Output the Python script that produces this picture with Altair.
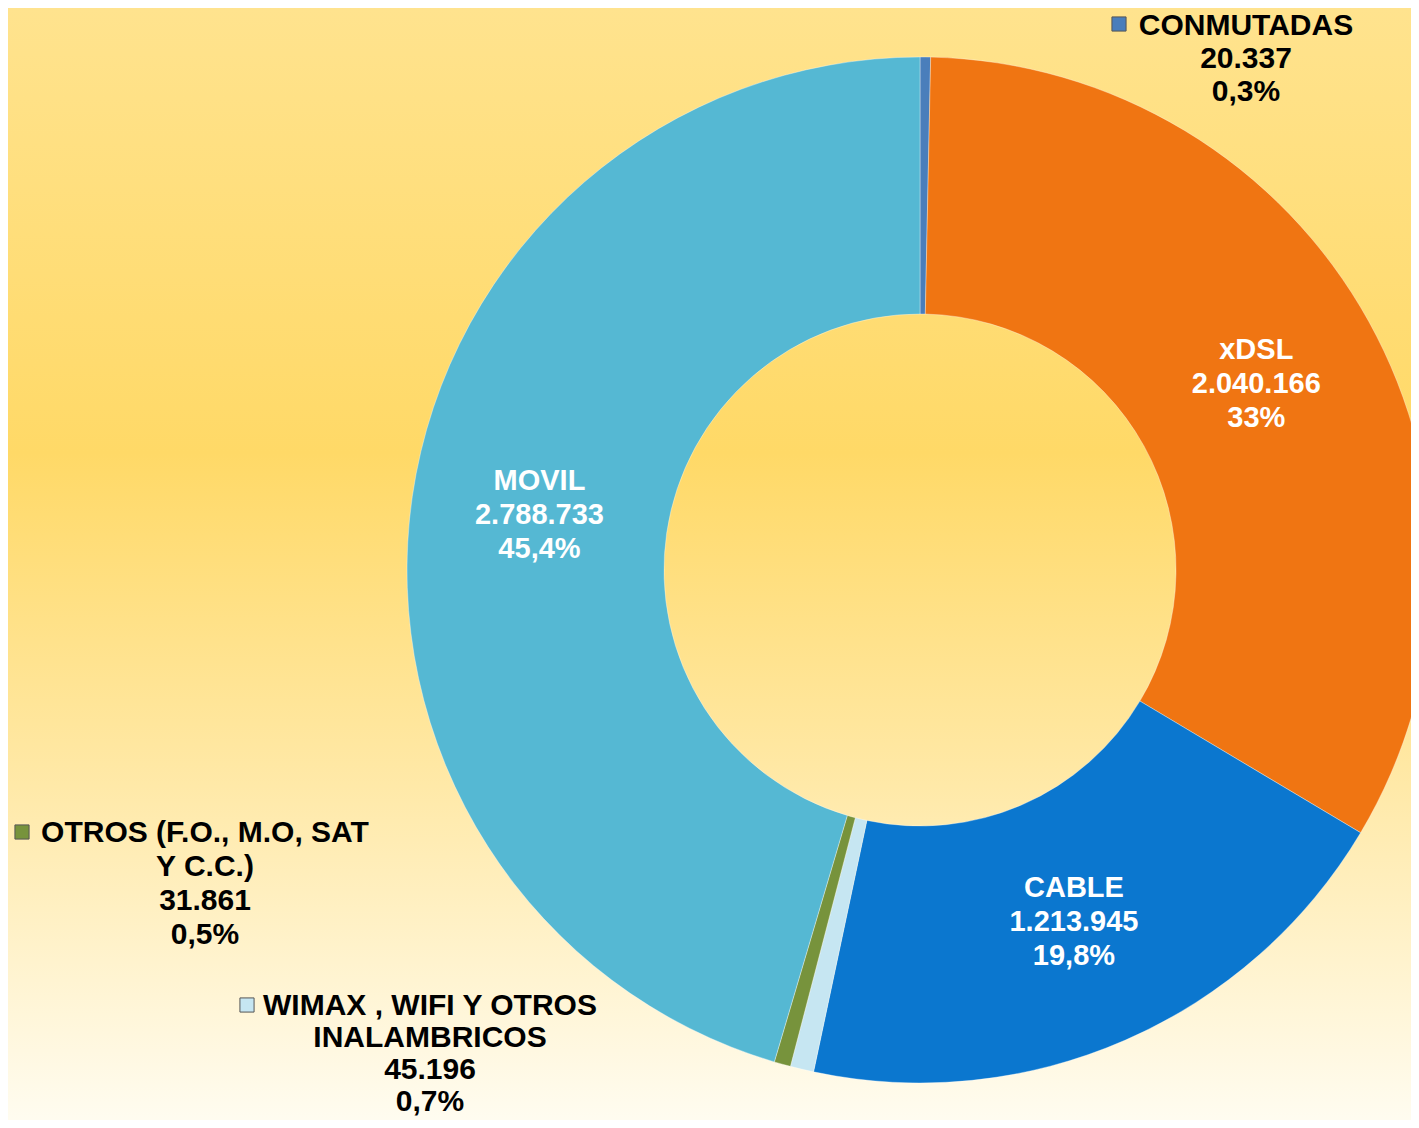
import altair as alt
import pandas as pd

# ---- data ----
names = ["CONMUTADAS", "xDSL", "CABLE", "WIMAX , WIFI Y OTROS\nINALAMBRICOS", "OTROS (F.O., M.O, SAT\nY C.C.)", "MOVIL"]
keys = ["CONMUTADAS", "xDSL", "CABLE", "WIMAX", "OTROS", "MOVIL"]
values = [20337, 2040166, 1213945, 45196, 31861, 2788733]
pct_labels = ["0,3%", "33%", "19,8%", "0,7%", "0,5%", "45,4%"]
colors = ["#4A7EBB", "#F07512", "#0B77CF", "#C6E6F2", "#77933C", "#55B8D3"]
inside = [False, True, True, False, False, True]

W, H = 1403, 1112
CX, CY = 912, 562
R_OUT, R_IN = 513, 256
LH = 34


def fmt(v):
    return f"{v:,}".replace(",", ".")


labels = [f"{n}\n{fmt(v)}\n{p}" for n, v, p in zip(names, values, pct_labels)]
df = pd.DataFrame({
    "key": keys,
    "value": values,
    "order": list(range(len(keys))),
    "label": labels,
    "inner": [l if i else "" for l, i in zip(labels, inside)],
})

# layout of the outside (manually placed) labels: first-line position, line height, legend key
outside_layout = {
    "CONMUTADAS": dict(x=1238, y=18, lh=33, kx=1111, ky=16),
    "OTROS": dict(x=197, y=825, lh=34, kx=14, ky=824),
    "WIMAX": dict(x=422, y=998, lh=32, kx=239, ky=997),
}

bg = alt.Chart(pd.DataFrame({"a": [0]})).mark_rect(
    fill=alt.LinearGradient(
        gradient="linear", x1=0, y1=0, x2=0, y2=1,
        stops=[
            alt.GradientStop(color="#FFE38E", offset=0),
            alt.GradientStop(color="#FFD967", offset=0.4),
            alt.GradientStop(color="#FFE9A8", offset=0.7),
            alt.GradientStop(color="#FFFCF0", offset=1),
        ],
    )
).encode(x=alt.value(0), x2=alt.value(W), y=alt.value(0), y2=alt.value(H))

color_scale = alt.Scale(domain=keys, range=colors)

base = alt.Chart(df).encode(
    theta=alt.Theta("value:Q", stack=True),
    order=alt.Order("order:Q"),
)

arcs = base.mark_arc(
    radius=R_OUT, radius2=R_IN, stroke="#ffffff", strokeWidth=1, strokeOpacity=0.35
).encode(
    color=alt.Color("key:N", scale=color_scale, legend=None),
    x=alt.value(CX), y=alt.value(CY),
)

inner_text = base.mark_text(
    radius=(R_OUT + R_IN) / 2, font="Liberation Sans", fontWeight="bold", fontSize=29,
    color="white", lineBreak="\n", lineHeight=LH, align="center", baseline="middle",
    dy=-LH,
).encode(text="inner:N", x=alt.value(CX), y=alt.value(CY))

layers = [bg, arcs, inner_text]
for k, pos in outside_layout.items():
    sub = df[df["key"] == k]
    t = alt.Chart(sub).mark_text(
        font="Liberation Sans", fontWeight="bold", fontSize=30, color="black",
        lineBreak="\n", lineHeight=pos["lh"], align="center", baseline="middle",
    ).encode(text="label:N", x=alt.value(pos["x"]), y=alt.value(pos["y"]))
    sq = alt.Chart(sub).mark_square(size=200, opacity=1, stroke="#555555", strokeWidth=1).encode(
        color=alt.Color("key:N", scale=color_scale, legend=None),
        x=alt.value(pos["kx"]), y=alt.value(pos["ky"]),
    )
    layers += [t, sq]

chart = alt.layer(*layers).properties(
    width=W, height=H, autosize=alt.AutoSizeParams(type="none"), padding=0,
    background="#FFE38E",
).configure_view(stroke=None)

chart.save("out.html", embed_options={"renderer": "svg", "actions": False})
